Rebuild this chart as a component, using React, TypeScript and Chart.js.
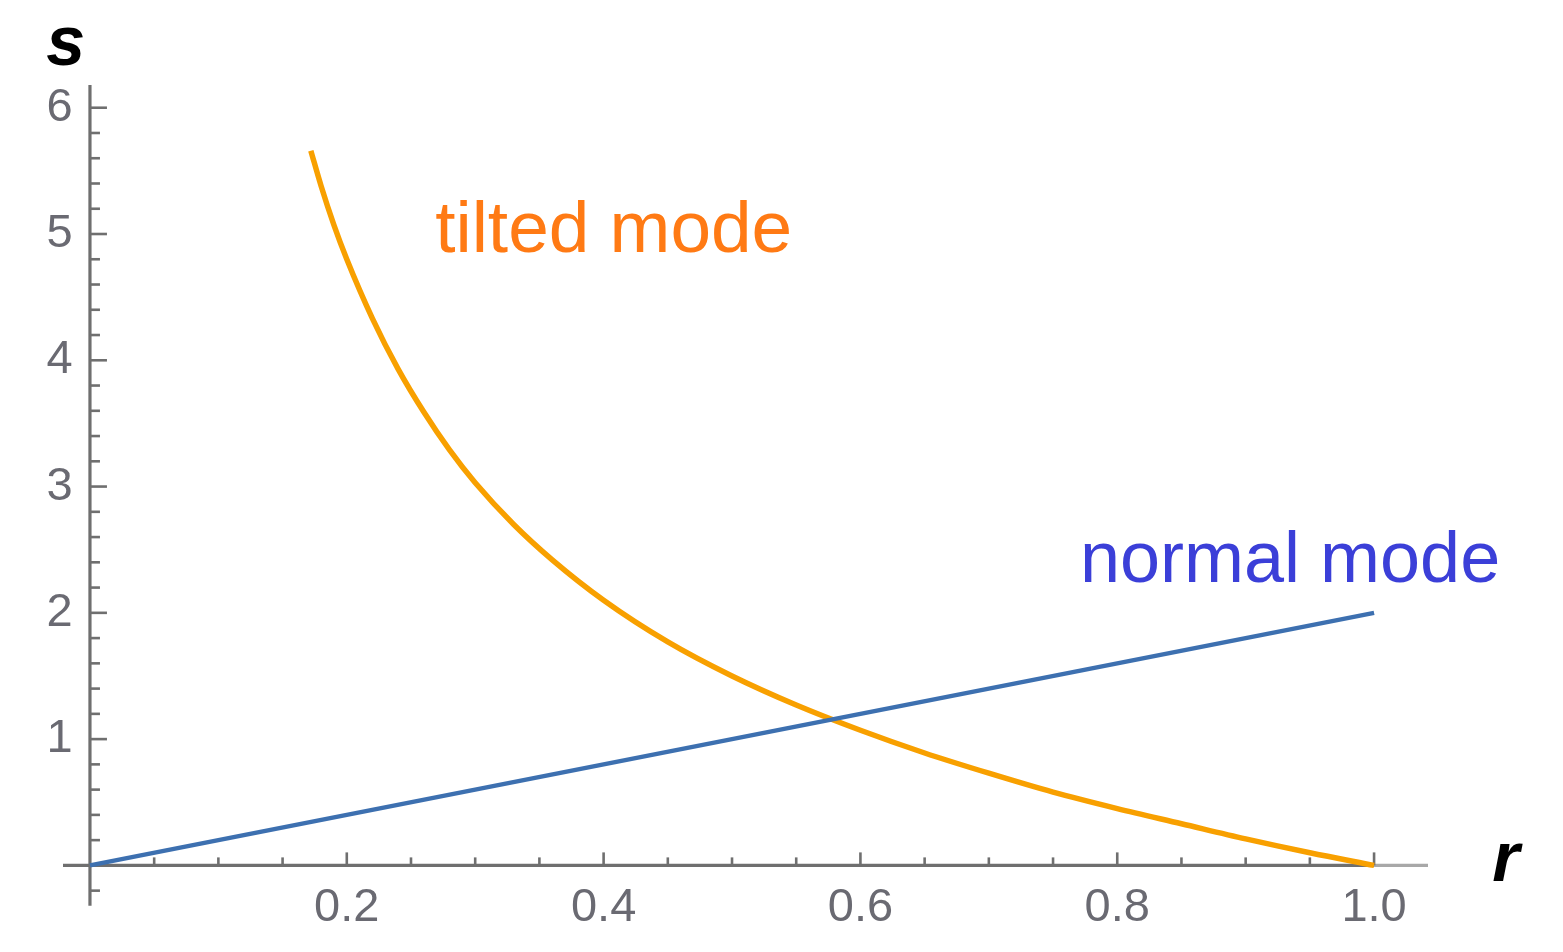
import React, { useEffect, useRef } from "react";
import { Chart, registerables } from "chart.js";
Chart.register(...registerables);

// ---- data ----
const normalR = [0, 1.0];
const normalS = [0, 2.0];

const tiltedR = [0.172, 0.18, 0.19, 0.2, 0.22, 0.24, 0.26, 0.28, 0.3, 0.33, 0.36, 0.4, 0.45, 0.5, 0.55, 0.6, 0.65, 0.7, 0.75, 0.8, 0.85, 0.9, 0.95, 1.0];
const tiltedS = [5.66, 5.38, 5.07, 4.8, 4.33, 3.93, 3.59, 3.29, 3.03, 2.7, 2.42, 2.1, 1.77, 1.5, 1.27, 1.07, 0.89, 0.73, 0.58, 0.45, 0.33, 0.21, 0.1, 0.0];

const xTickValues = [0.2, 0.4, 0.6, 0.8, 1.0];
const xTickLabels = ["0.2", "0.4", "0.6", "0.8", "1.0"];
const yTickValues = [1, 2, 3, 4, 5, 6];
const yTickLabels = ["1", "2", "3", "4", "5", "6"];

// ---- ranges / styles ----
const X_MIN = -0.021;
const X_MAX = 1.042;
const Y_MIN = -0.32;
const Y_MAX = 6.18;
const X_MINOR_STEP = 0.05;
const Y_MINOR_STEP = 0.2;
const Y_LABEL_X = -0.0135; // x-value where y tick labels end (right edge)

const AXIS_COLOR = "#6f6f6f";
const LABEL_COLOR = "#6a6a72";
const BLUE_LINE = "#3d70b0";
const ORANGE_LINE = "#f8a000";
const BLUE_TEXT = "#3b3fd8";
const ORANGE_TEXT = "#ff7a14";
const FONT = "'Liberation Sans', Arial, sans-serif";

const xMinorTicks: number[] = [];
for (let i = 1; i * X_MINOR_STEP <= 1.0001; i++) xMinorTicks.push(+(i * X_MINOR_STEP).toFixed(3));
const yMinorTicks: number[] = [];
for (let i = -1; i * Y_MINOR_STEP <= 6.0001; i++) if (i !== 0) yMinorTicks.push(+(i * Y_MINOR_STEP).toFixed(3));

const axesPlugin = {
  id: "mmaAxes",
  beforeDatasetsDraw(chart: any) {
    const { ctx, scales } = chart;
    const xs = scales.x;
    const ys = scales.y;
    const x0 = xs.getPixelForValue(0);
    const y0 = ys.getPixelForValue(0);
    ctx.save();
    ctx.lineCap = "butt";
    // x axis
    ctx.strokeStyle = AXIS_COLOR;
    ctx.lineWidth = 3.2;
    ctx.beginPath();
    ctx.moveTo(xs.getPixelForValue(X_MIN), y0);
    ctx.lineTo(xs.getPixelForValue(1.0), y0);
    ctx.stroke();
    ctx.strokeStyle = "#a8a8a8";
    ctx.beginPath();
    ctx.moveTo(xs.getPixelForValue(1.0), y0);
    ctx.lineTo(xs.getPixelForValue(X_MAX), y0);
    ctx.stroke();
    // y axis
    ctx.strokeStyle = AXIS_COLOR;
    ctx.beginPath();
    ctx.moveTo(x0, ys.getPixelForValue(Y_MIN));
    ctx.lineTo(x0, ys.getPixelForValue(Y_MAX));
    ctx.stroke();
    // x ticks (pointing up)
    ctx.lineWidth = 2.6;
    xMinorTicks.forEach((v) => {
      const major = Math.abs(v / 0.2 - Math.round(v / 0.2)) < 1e-6;
      const px = xs.getPixelForValue(v);
      ctx.beginPath();
      ctx.moveTo(px, y0);
      ctx.lineTo(px, y0 - (major ? 13 : 8));
      ctx.stroke();
    });
    // y ticks (pointing right)
    yMinorTicks.forEach((v) => {
      const major = Math.abs(v - Math.round(v)) < 1e-6;
      const py = ys.getPixelForValue(v);
      ctx.beginPath();
      ctx.moveTo(x0, py);
      ctx.lineTo(x0 + (major ? 17 : 10), py);
      ctx.stroke();
    });
    ctx.restore();
  },
  afterDraw(chart: any) {
    const { ctx, scales } = chart;
    const xs = scales.x;
    const ys = scales.y;
    ctx.save();
    ctx.textBaseline = "alphabetic";
    ctx.textAlign = "left";
    // curve labels
    ctx.font = `73px ${FONT}`;
    ctx.fillStyle = ORANGE_TEXT;
    ctx.fillText("tilted mode", xs.getPixelForValue(0.2688), ys.getPixelForValue(4.86));
    ctx.font = `72px ${FONT}`;
    ctx.fillStyle = BLUE_TEXT;
    ctx.fillText("normal mode", xs.getPixelForValue(0.771), ys.getPixelForValue(2.243));
    // axis titles
    ctx.font = `italic bold 70px ${FONT}`;
    ctx.fillStyle = "#000000";
    ctx.fillText("s", xs.getPixelForValue(-0.034), ys.getPixelForValue(6.34));
    ctx.fillText("r", xs.getPixelForValue(1.092), ys.getPixelForValue(-0.12));
    ctx.restore();
  },
};

export default function App() {
  const canvasRef = useRef<HTMLCanvasElement | null>(null);

  useEffect(() => {
    if (!canvasRef.current) return;
    const chart = new Chart(canvasRef.current, {
      type: "scatter",
      data: {
        datasets: [
          {
            label: "normal mode",
            data: normalR.map((r, i) => ({ x: r, y: normalS[i] })),
            showLine: true,
            borderColor: BLUE_LINE,
            borderWidth: 4.5,
            pointRadius: 0,
            fill: false,
          },
          {
            label: "tilted mode",
            data: tiltedR.map((r, i) => ({ x: r, y: tiltedS[i] })),
            showLine: true,
            borderColor: ORANGE_LINE,
            borderWidth: 5.5,
            pointRadius: 0,
            cubicInterpolationMode: "monotone",
            fill: false,
          },
        ],
      },
      options: {
        animation: false,
        responsive: false,
        devicePixelRatio: 1,
        layout: { padding: { left: 63, right: 135, top: 85, bottom: 45 } },
        plugins: {
          legend: { display: false },
          tooltip: { enabled: false },
        },
        scales: {
          x: {
            type: "linear",
            min: X_MIN,
            max: X_MAX,
            position: { y: 0 } as any,
            grid: { display: false, drawTicks: false },
            border: { display: false },
            afterBuildTicks: (s: any) => {
              s.ticks = xTickValues.map((v) => ({ value: v }));
            },
            ticks: {
              autoSkip: false,
              maxRotation: 0,
              padding: 14,
              color: LABEL_COLOR,
              font: { family: FONT, size: 47 },
              callback: (_v: any, i: number) => xTickLabels[i],
            },
          },
          y: {
            type: "linear",
            min: Y_MIN,
            max: Y_MAX,
            position: { x: Y_LABEL_X } as any,
            grid: { display: false, drawTicks: false },
            border: { display: false },
            afterBuildTicks: (s: any) => {
              s.ticks = yTickValues.map((v) => ({ value: v }));
            },
            ticks: {
              autoSkip: false,
              padding: 18,
              color: LABEL_COLOR,
              font: { family: FONT, size: 47 },
              callback: (_v: any, i: number) => yTickLabels[i],
            },
          },
        },
      },
      plugins: [axesPlugin],
    });
    return () => chart.destroy();
  }, []);

  return (
    <div style={{ position: "absolute", left: 0, top: 0, width: 1563, height: 952, background: "#ffffff" }}>
      <canvas ref={canvasRef} width={1563} height={952} />
    </div>
  );
}
